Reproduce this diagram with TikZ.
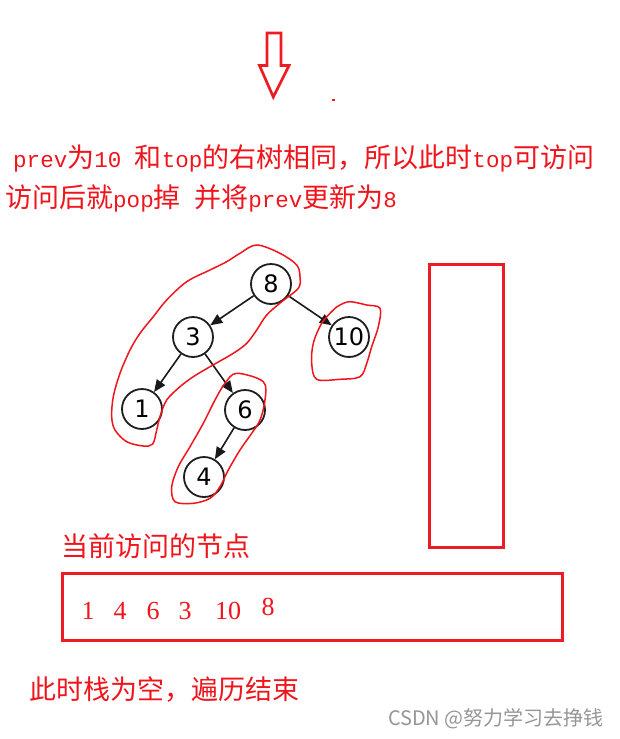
\documentclass[tikz,border=0pt]{standalone}
\usepackage{fontspec}
\setmainfont{Liberation Serif}
\newfontfamily\cjk{Noto Sans CJK SC}
\newfontfamily\lat[Scale=0.835]{Liberation Mono}
\newfontfamily\numf{DejaVu Sans}
\usetikzlibrary{arrows.meta}
\definecolor{pred}{RGB}{237,28,36}
\definecolor{tred}{RGB}{240,20,28}
\definecolor{wm}{RGB}{150,150,150}
\tikzset{
  tnode/.style={circle,draw=black!88,line width=1.8pt,minimum size=40pt,inner sep=0pt,font=\numf\fontsize{24}{24}\selectfont},
  tedge/.style={line width=1.6pt,draw=black!90,-{Triangle[length=12pt,width=10pt]}},
  loopline/.style={draw=tred,line width=1.5pt},
  box/.style={draw=pred,line width=2.8pt},
  txt/.style={text=tred,inner sep=0pt,anchor=west,font=\cjk\fontsize{27}{30}\selectfont},
  seq/.style={text=tred,inner sep=0pt,font=\rmfamily\fontsize{26}{26}\selectfont}
}
\begin{document}
\begin{tikzpicture}[x=1pt,y=-1pt]
\useasboundingbox[fill=white] (0,0) rectangle (619,739);
% down arrow
\draw[box,line width=2.7pt,line join=miter] (267,33) -- (281,33) -- (281,65.5) -- (289,65.5) -- (273.3,97) -- (259.5,65.5) -- (267,65.5) -- cycle;
\fill[pred] (331.5,99) rectangle (334.5,101);
% texts
\node[txt] (t1) at (13,158) {{\lat prev}为{\lat 10 }和{\lat top}的右树相同，所以此时{\lat top}可访问};
\node[txt] (t2) at (5,198) {访问后就{\lat pop}掉{\lat\ }并将{\lat prev}更新为{\lat 8}};
% tree
\node[tnode] (n8) at (271,284) {8};
\node[tnode] (n3) at (193,337) {3};
\node[tnode] (n10) at (349,337) {10};
\node[tnode] (n1) at (142,409) {1};
\node[tnode] (n6) at (245,410) {6};
\node[tnode] (n4) at (204,477) {4};
\draw[tedge] (n8) -- (n3);
\draw[tedge] (n8) -- (n10);
\draw[tedge] (n3) -- (n1);
\draw[tedge] (n3) -- (n6);
\draw[tedge] (n6) -- (n4);
% red loops
\draw[loopline] plot[smooth cycle,tension=0.55] coordinates {
(256.7,245) (280,253.3) (296.7,265) (300,276.7) (298.3,288.3) (281.7,301.7)
(266.7,315) (256.7,330) (246.7,343.3) (233.3,353.3) (210,366.7) (193.3,376.7)
(180,386.7) (166.7,400) (160,416.7) (156.7,430) (152.7,444) (143.3,446)
(126.7,441.7) (115,430) (111.7,416.7) (113.3,396.7) (120,373.3) (130,350)
(140,333.3) (153.3,316.7) (166.7,300) (186.7,281.7) (210,270) (226.7,261.7) (240,253.3)};
\draw[loopline] plot[smooth cycle,tension=0.55] coordinates {
(236.7,373.3) (263.3,381.7) (265,400) (260,420) (251.7,433.3) (240,450)
(228.3,470) (220,486.7) (210,498.3) (193.3,503.3) (175,501.7) (171.7,486.7)
(178.3,466.7) (190,446.7) (203.3,423.3) (215,400) (225,383.3)};
\draw[loopline] plot[smooth cycle,tension=0.55] coordinates {
(340,305) (350,301.7) (366.7,305) (380,308.3) (378.3,326.7) (371.7,346.7)
(366.7,363.3) (360,376.7) (340,379.3) (316.7,379.3) (311.7,363.3) (313.3,343.3)
(321.7,323.3) (333.3,310)};
% stack rectangle
\draw[box] (429.5,264.5) rectangle (503.5,547.5);
% visited label and box
\node[txt] (t3) at (61,546) {当前访问的节点};
\draw[box,line width=3pt] (62.5,573.5) rectangle (562.5,640.5);
\node[seq] (s1) at (88,611) {1};
\node[seq] (s2) at (120,611) {4};
\node[seq] (s3) at (153,611) {6};
\node[seq] (s4) at (185,611) {3};
\node[seq] (s5) at (228,611) {10};
\node[seq] (s6) at (268,607) {8};
\node[txt] (t4) at (29,690) {此时栈为空，遍历结束};
\node[text=wm,inner sep=0pt,anchor=east,font=\cjk\fontsize{20}{20}\selectfont] (wm) at (604,719) {CSDN @努力学习去挣钱};
\end{tikzpicture}
\end{document}
